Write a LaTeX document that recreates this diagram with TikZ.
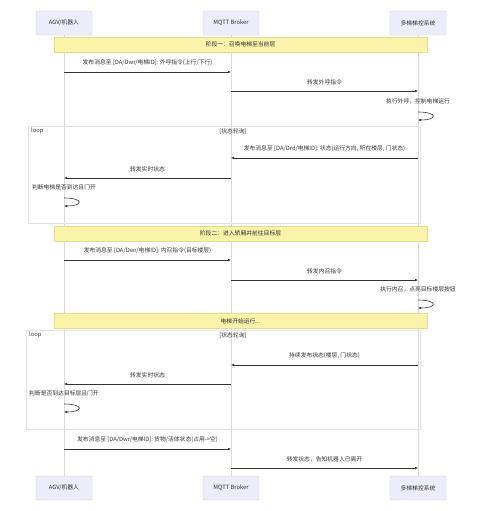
\documentclass[tikz,border=0pt]{standalone}
\usepackage{fontspec}
\setmainfont{Noto Sans CJK SC}
\usepackage{xcolor}
\usetikzlibrary{arrows.meta, positioning, calc, fit}

\definecolor{actorfill}{HTML}{ECECFA}
\definecolor{actorline}{HTML}{D6D0F0}
\definecolor{notefill}{HTML}{FAF3A9}
\definecolor{noteline}{HTML}{E6DC8C}
\definecolor{msgcol}{HTML}{333333}

\begin{document}
\begin{tikzpicture}[
    x=1pt, y=-1pt,
    font=\fontsize{5.8}{7}\selectfont,
    >={Latex[length=3pt,width=2.6pt]},
    actor/.style={
      draw=actorline,
      fill=actorfill,
      rounded corners=1pt,
      text=msgcol,
      minimum width=56pt,
      minimum height=24pt,
      inner sep=0pt
    },
    note/.style={
      draw=noteline,
      fill=notefill,
      text=msgcol,
      minimum width=373pt,
      minimum height=15pt,
      inner sep=0pt
    },
    lifeline/.style={draw=gray!30, line width=0.6pt},
    loopframe/.style={draw=gray!22, line width=0.6pt},
    msg/.style={->, draw=msgcol, line width=0.6pt},
    lbl/.style={above=6pt, inner sep=0pt, text=msgcol},
    selflbl/.style={above=8pt, inner sep=0pt, text=msgcol},
    looplbl/.style={inner sep=0pt, text=msgcol}
]

\fill[white] (0,0) rectangle (482,511);

% participants
\node[actor] (agv) at (64,23) {AGV/机器人};
\node[actor] (brk) at (231,23) {MQTT Broker};
\node[actor] (sys) at (418,23) {多梯梯控系统};
\node[actor] (agvB) at (64,488) {AGV/机器人};
\node[actor] (brkB) at (231,488) {MQTT Broker};
\node[actor] (sysB) at (418,488) {多梯梯控系统};

\draw[lifeline] (agv) -- (agvB);
\draw[lifeline] (brk) -- (brkB);
\draw[lifeline] (sys) -- (sysB);

% loop frames
\coordinate (loopA1) at (28,126);
\coordinate (loopA2) at (420,223);
\coordinate (loopB1) at (26,330);
\coordinate (loopB2) at (420,429);
\draw[loopframe] (loopA1) rectangle (loopA2);
\draw[loopframe] (loopB1) rectangle (loopB2);
\node[looplbl, below right=2pt and 3pt of loopA1] (loopA) {loop};
\node[looplbl, below=2pt, xshift=2pt] (condA) at (brk |- loopA1) {[状态轮询]};
\node[looplbl, below right=2pt and 3pt of loopB1] (loopB) {loop};
\node[looplbl, below=2pt, xshift=2pt] (condB) at (brk |- loopB1) {[状态轮询]};

% notes
\node[note] (phase1) at (240.5,44.5) {阶段一：召唤电梯至当前层};
\node[note] (phase2) at (240.5,233.7) {阶段二：进入轿厢并前往目标层};
\node[note] (phase3) at (240.5,321) {电梯开始运行...};

% message rows
\coordinate (r1) at (0,72);
\coordinate (r2) at (0,91);
\coordinate (s3) at (0,112);
\coordinate (e3) at (0,120);
\coordinate (r4) at (0,158);
\coordinate (r5) at (0,178);
\coordinate (s6) at (0,198);
\coordinate (e6) at (0,206);
\coordinate (r7) at (0,260);
\coordinate (r8) at (0,280);
\coordinate (s9) at (0,300);
\coordinate (e9) at (0,308);
\coordinate (r10) at (0,365);
\coordinate (r11) at (0,384);
\coordinate (s12) at (0,404);
\coordinate (e12) at (0,412);
\coordinate (r13) at (0,449);
\coordinate (r14) at (0,468);

\draw[msg] (agv |- r1) -- node[lbl]{发布消息至 [DA/Dwr/电梯ID]: 外呼指令(上行/下行)} (brk |- r1);
\draw[msg] (brk |- r2) -- node[lbl]{转发外呼指令} (sys |- r2);
\draw[msg] (sys |- s3) node[selflbl]{执行外呼，控制电梯运行} to[out=0, in=0, distance=20pt] (sys |- e3);

\draw[msg] (sys |- r4) -- node[lbl]{发布消息至 [DA/Drd/电梯ID]: 状态(运行方向, 所在楼层, 门状态)} (brk |- r4);
\draw[msg] (brk |- r5) -- node[lbl]{转发实时状态} (agv |- r5);
\draw[msg] (agv |- s6) node[selflbl]{判断电梯是否到达且门开} to[out=0, in=0, distance=20pt] (agv |- e6);

\draw[msg] (agv |- r7) -- node[lbl]{发布消息至 [DA/Dwr/电梯ID]: 内召指令(目标楼层)} (brk |- r7);
\draw[msg] (brk |- r8) -- node[lbl]{转发内召指令} (sys |- r8);
\draw[msg] (sys |- s9) node[selflbl]{执行内召，点亮目标楼层按钮} to[out=0, in=0, distance=20pt] (sys |- e9);

\draw[msg] (sys |- r10) -- node[lbl]{持续发布状态(楼层, 门状态)} (brk |- r10);
\draw[msg] (brk |- r11) -- node[lbl]{转发实时状态} (agv |- r11);
\draw[msg] (agv |- s12) node[selflbl]{判断是否到达目标层且门开} to[out=0, in=0, distance=20pt] (agv |- e12);

\draw[msg] (agv |- r13) -- node[lbl]{发布消息至 [DA/Dwr/电梯ID]: 货物/活体状态(占用->空)} (brk |- r13);
\draw[msg] (brk |- r14) -- node[lbl]{转发状态，告知机器人已离开} (sys |- r14);
\end{tikzpicture}
\end{document}
